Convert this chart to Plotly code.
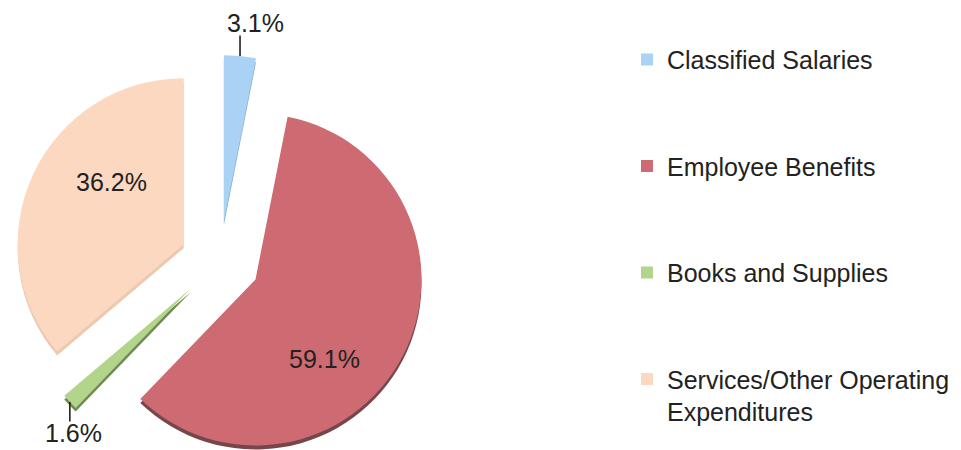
import math
import plotly.graph_objects as go

# Data
labels = ["Classified Salaries", "Employee Benefits", "Books and Supplies",
          "Services/Other Operating<br>Expenditures"]
values = [3.1, 59.1, 1.6, 36.2]
colors = ["#aad2f4", "#cd6a72", "#b2d48b", "#fbd8bf"]
rim_colors = ["#8fb0d0", "#75474a", "#6f8a55", "#eccab2"]
label_pos = ["outside", "inside", "outside", "inside"]

W, H = 961, 450
PAGE = 8            # default body margin of the html page
CX, CY = 220, 261   # pie centre (page px)
R = 166             # pie radius (px)
PULL = 40           # explode distance (px)
DEPTH = 4           # thickness of the 3d rim (px)
FONT = "Arial, Liberation Sans, sans-serif"

# label placement tweaks (px): inside labels relative to the 0.6R point on the bisector,
# outside labels relative to the slice rim
label_shift = [(15, 33), (-19, -33), (4, -31), (18, 20)]
leader = [-22, 0, 21, 0]


def px(x):
    return (x - PAGE) / W


def py(y):
    return 1 - (y - PAGE) / H


def slice_trace(k, sx, sy, paint):
    return go.Pie(
        labels=labels, values=values, sort=False, direction="clockwise",
        marker=dict(colors=[paint if i == k else "rgba(0,0,0,0)" for i in range(len(values))],
                    line=dict(width=0)),
        textinfo="none",
        domain=dict(x=[px(sx - R), px(sx + R)], y=[py(sy + R), py(sy - R)]),
        showlegend=False, hoverinfo="skip",
    )


fig = go.Figure()
annotations = []

# centre of each exploded slice along its bisector
total = sum(values)
start = 0.0
slices = []
for k, v in enumerate(values):
    mid = (start + v / 2) / total * 2 * math.pi
    start += v
    dx, dy = math.sin(mid), -math.cos(mid)
    slices.append((dx, dy, CX + PULL * dx, CY + PULL * dy))

# rim (slightly lower, darker) then top faces
for k, (dx, dy, sx, sy) in enumerate(slices):
    depth = min(DEPTH, PAGE + H - (sy + R) - 0.01)
    fig.add_trace(slice_trace(k, sx, sy + depth, rim_colors[k]))
for k, (dx, dy, sx, sy) in enumerate(slices):
    fig.add_trace(slice_trace(k, sx, sy, colors[k]))

    txt = f"{values[k]:.1f}%"
    xs, ys = label_shift[k]
    if label_pos[k] == "outside":
        tx, ty = sx + R * dx, sy + R * dy
        annotations.append(dict(x=px(tx), y=py(ty), xref="paper", yref="paper", text="",
                                showarrow=True, arrowhead=0, arrowwidth=1.6,
                                arrowcolor="#222222", ax=0, ay=leader[k]))
    else:
        tx, ty = sx + 0.6 * R * dx, sy + 0.6 * R * dy
    annotations.append(dict(x=px(tx), y=py(ty), xref="paper", yref="paper", text=txt,
                            showarrow=False, xshift=xs, yshift=ys,
                            xanchor="center", yanchor="middle",
                            font=dict(family=FONT, size=25, color="#222222")))

# Legend entries (tiny invisible pies, one group each so they can be spaced)
for k in range(len(labels)):
    fig.add_trace(go.Pie(
        labels=[labels[k]], values=[values[k]], marker=dict(colors=[colors[k]]),
        legendgroup=labels[k], textinfo="none", hoverinfo="skip",
        domain=dict(x=[0.999, 1], y=[0, 0.001]),
    ))

fig.update_layout(
    width=W, height=H,
    margin=dict(l=0, r=0, t=0, b=0),
    paper_bgcolor="white", plot_bgcolor="white",
    annotations=annotations,
    legend=dict(
        x=0.6441, y=0.936, xanchor="left", yanchor="top",
        traceorder="grouped", tracegroupgap=71, valign="top",
        font=dict(family=FONT, size=25, color="#222222"),
        bgcolor="rgba(0,0,0,0)",
    ),
)

fig.write_html("out.html")
